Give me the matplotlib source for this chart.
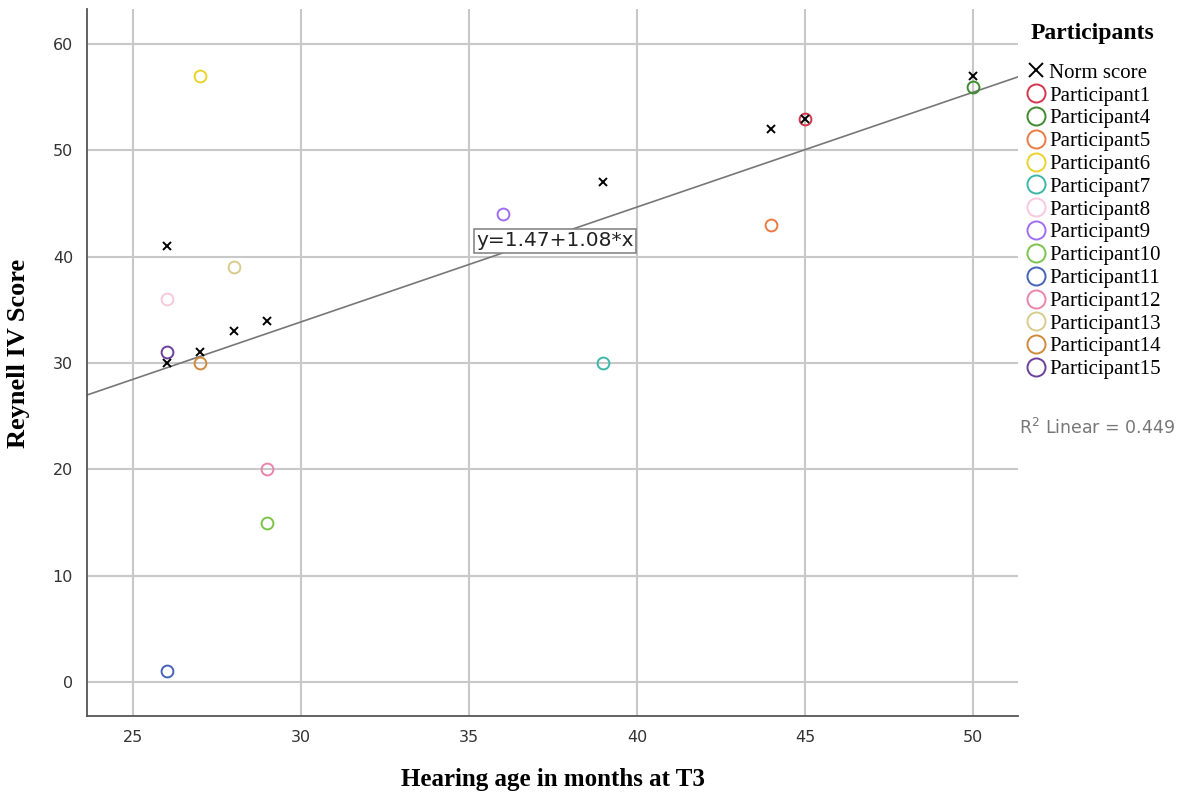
import matplotlib.pyplot as plt
import numpy as np

# Norm scores (black crosses)
norm_x = [26, 26, 27, 28, 29, 39, 44, 45, 50]
norm_y = [41, 30, 31, 33, 34, 47, 52, 53, 57]

# Participant scores
participants = ['Participant1', 'Participant4', 'Participant5', 'Participant6',
                'Participant7', 'Participant8', 'Participant9', 'Participant10',
                'Participant11', 'Participant12', 'Participant13', 'Participant14',
                'Participant15']
part_x = [45, 50, 44, 27, 39, 26, 36, 29, 26, 29, 28, 27, 26]
part_y = [53, 56, 43, 57, 30, 36, 44, 15, 1, 20, 39, 30, 31]
part_colors = ['#d2364c', '#3f8a2f', '#eb7a45', '#ead32c', '#3cb8a8', '#f8c8dc',
               '#a06ef2', '#7cc34c', '#4563b8', '#ea84ab', '#d8cc8c', '#cf8a3c',
               '#6b3f9c']

# fit line y = 1.47 + 1.08*x
intercept = 1.47
slope = 1.08
r2 = 0.449

fig = plt.figure(figsize=(11.82, 7.96), dpi=100)
ax = fig.add_axes([0.0736, 0.1005, 0.7877, 0.8882])

ax.set_xlim(23.63, 51.34)
ax.set_ylim(-3.2, 63.3)
ax.set_xticks([25, 30, 35, 40, 45, 50])
ax.set_yticks([0, 10, 20, 30, 40, 50, 60])
ax.grid(True, color='#c8c8c8', linewidth=1.5)
ax.set_axisbelow(True)
for s in ['top', 'right']:
    ax.spines[s].set_visible(False)
for s in ['left', 'bottom']:
    ax.spines[s].set_color('#555555')
    ax.spines[s].set_linewidth(1.3)
ax.tick_params(length=0, labelsize=11.5, colors='#333333', pad=10)

# regression line
xs = np.array(ax.get_xlim())
ax.plot(xs, intercept + slope * xs, color='#777777', linewidth=1.2, zorder=2)

# participant circles
handles = []
for name, x, y, c in zip(participants, part_x, part_y, part_colors):
    h, = ax.plot(x, y, 'o', markersize=8.5, markerfacecolor='none',
                 markeredgecolor=c, markeredgewidth=1.4, label=name, zorder=3)
    handles.append(h)

hn, = ax.plot(norm_x, norm_y, 'x', color='black', markersize=6,
              markeredgewidth=1.4, linestyle='none', label='Norm score', zorder=4)

ax.text(37.56, 41.5, 'y=1.47+1.08*x', fontsize=14.5, ha='center', va='center',
        color='#222222',
        bbox=dict(boxstyle='square,pad=0.12', facecolor='white',
                  edgecolor='#888888', linewidth=1.2), zorder=5)

ax.set_xlabel('Hearing age in months at T3', fontsize=18, fontweight='bold',
              family='Liberation Serif')
ax.set_ylabel('Reynell IV Score', fontsize=19, fontweight='bold',
              family='Liberation Serif')
ax.xaxis.set_label_coords(0.5, -0.074)
ax.yaxis.set_label_coords(-0.061, 0.513)

leg = fig.legend([hn] + handles, ['Norm score'] + participants,
                 loc='upper left', bbox_to_anchor=(0.8597, 0.982),
                 frameon=False, prop={'family': 'Liberation Serif', 'size': 15},
                 title='Participants', handletextpad=0.1, handlelength=1.1,
                 labelspacing=0.155, borderaxespad=0)
leg.get_title().set_fontweight('bold')
leg.get_title().set_fontsize(17)
leg.get_title().set_family('Liberation Serif')
leg._legend_box.sep = 14
for h in leg.legend_handles[1:]:
    h.set_markersize(13)
leg.legend_handles[0].set_markersize(10)

fig.text(0.9945, 0.463, r'R$^2$ Linear = 0.449', ha='right', va='center',
         fontsize=12.5, color='#777777')

plt.savefig('out.png')
